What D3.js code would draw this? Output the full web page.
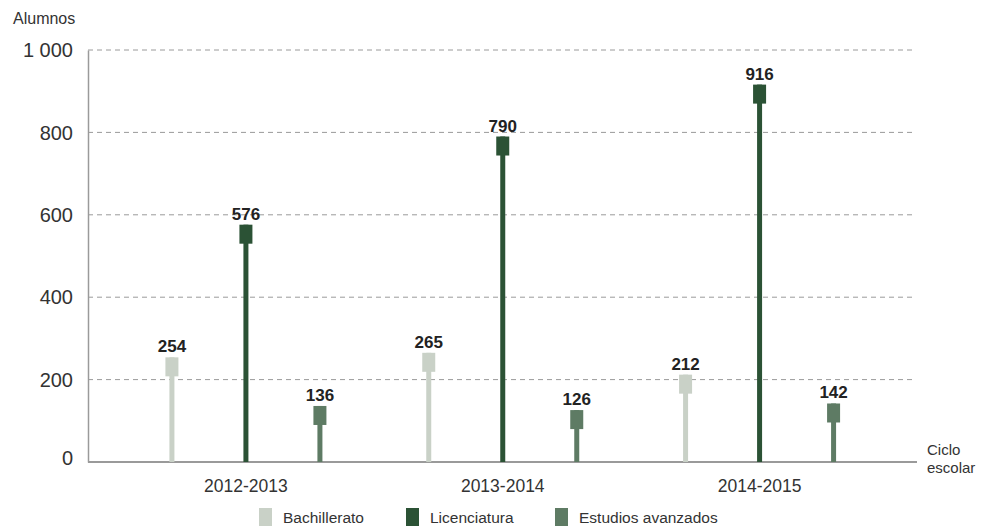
<!DOCTYPE html>
<html>
<head>
<meta charset="utf-8">
<script src="https://cdn.jsdelivr.net/npm/d3@7"></script>
<style>
  html, body { margin: 0; padding: 0; background: #fff; }
  svg { display: block; font-family: "Liberation Sans", Arial, Helvetica, sans-serif; }
</style>
</head>
<body>
<svg id="chart" width="983" height="528"></svg>
<script>
const categories = ["2012-2013", "2013-2014", "2014-2015"];
const seriesNames = ["Bachillerato", "Licenciatura", "Estudios avanzados"];
const bachillerato = [254, 265, 212];
const licenciatura = [576, 790, 916];
const estudios = [136, 126, 142];
const yTicks = [0, 200, 400, 600, 800, 1000];
const colors = ["#c9d1c7", "#2b5235", "#5e7b64"];

const seriesValues = [bachillerato, licenciatura, estudios];

const svg = d3.select("#chart");
const plotLeft = 88, plotRight = 917, plotTop = 50, plotBottom = 462;

const y = d3.scaleLinear().domain([0, 1000]).range([plotBottom, plotTop]);
const x0 = d3.scaleBand().domain(categories).range([117.5, 888]).padding(0);
const x1 = d3.scalePoint().domain(seriesNames).range([-74, 74]);

// gridlines
svg.append("g").selectAll("line")
  .data(yTicks.filter(d => d > 0))
  .join("line")
  .attr("x1", plotLeft).attr("x2", plotRight - 2)
  .attr("y1", d => y(d)).attr("y2", d => y(d))
  .attr("stroke", "#9a9a9a").attr("stroke-width", 1)
  .attr("stroke-dasharray", "5,4");

// y axis
const yAxis = d3.axisLeft(y).tickValues(yTicks).tickSize(0).tickPadding(15)
  .tickFormat(d => d3.format(",")(d).replace(",", " "));
const gy = svg.append("g").attr("transform", `translate(${plotLeft},0)`).call(yAxis);
gy.select(".domain").attr("stroke", "#9a9a9a").attr("stroke-width", 1.5);
gy.selectAll("text").attr("font-size", 20).attr("fill", "#333")
  .attr("dy", d => d === 0 ? "0.12em" : "0.33em");

// x axis
const xAxis = d3.axisBottom(x0).tickSize(0).tickPadding(18);
const gx = svg.append("g").attr("transform", `translate(0,${plotBottom})`).call(xAxis);
gx.select(".domain").attr("d", `M${plotLeft},0H${plotRight}`).attr("stroke", "#9a9a9a").attr("stroke-width", 2);
gx.selectAll("text").attr("font-size", 17.5).attr("fill", "#333");

// bars
const groups = svg.append("g").selectAll("g")
  .data(categories)
  .join("g")
  .attr("transform", c => `translate(${x0(c) + x0.bandwidth() / 2},0)`);

groups.each(function(c, ci) {
  const g = d3.select(this);
  seriesNames.forEach((s, si) => {
    const v = seriesValues[si][ci];
    const cx = x1(s);
    g.append("rect")
      .attr("x", cx - 2.5).attr("width", 5)
      .attr("y", y(v)).attr("height", plotBottom - y(v))
      .attr("fill", colors[si]);
    g.append("rect")
      .attr("x", cx - 6.5).attr("width", 13)
      .attr("y", y(v)).attr("height", 19)
      .attr("fill", colors[si]);
    g.append("text")
      .attr("x", cx).attr("y", y(v) - 5)
      .attr("text-anchor", "middle")
      .attr("font-size", 17).attr("font-weight", "bold").attr("fill", "#222")
      .text(v);
  });
});

// axis titles
const plain = (sel, size) => sel.attr("font-size", size).attr("fill", "#333");
svg.append("text").attr("x", 13).attr("y", 24).call(plain, 16).text("Alumnos");
svg.append("text").attr("x", 927).attr("y", 455).call(plain, 15).text("Ciclo");
svg.append("text").attr("x", 927).attr("y", 472.5).call(plain, 15).text("escolar");

// legend
const legendX = [259, 406, 555];
const legend = svg.append("g").selectAll("g")
  .data(seriesNames)
  .join("g")
  .attr("transform", (d, i) => `translate(${legendX[i]},508)`);
legend.append("rect").attr("width", 13).attr("height", 18).attr("fill", (d, i) => colors[i]);
legend.append("text").attr("x", 24).attr("y", 15).call(plain, 15.5).text(d => d);
</script>
</body>
</html>
